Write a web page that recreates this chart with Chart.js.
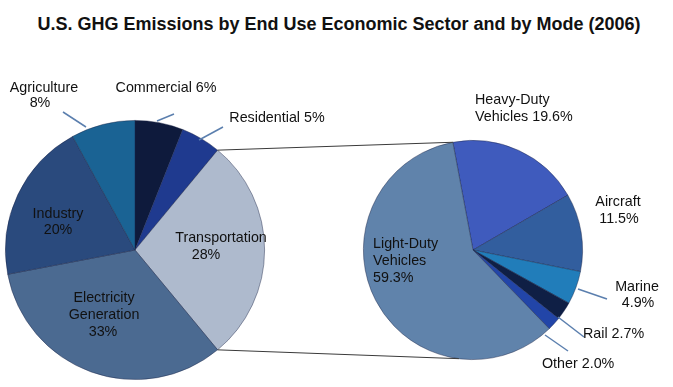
<!DOCTYPE html>
<html><head><meta charset="utf-8">
<script src="https://cdn.jsdelivr.net/npm/chart.js@4.4.0/dist/chart.umd.min.js"></script>
<style>
html,body{margin:0;padding:0;background:#fff;}
#wrap{position:relative;width:673px;height:387px;overflow:hidden;font-family:"Liberation Sans",Arial,sans-serif;background:#fff;}
#title{position:absolute;left:0;top:14px;width:678px;text-align:center;font-weight:bold;font-size:18px;color:#111;line-height:20px;}
canvas{position:absolute;}
</style></head><body>
<div id="wrap">
<div id="title">U.S. GHG Emissions by End Use Economic Sector and by Mode (2006)</div>
<canvas id="left" width="340" height="347" style="left:0;top:40px"></canvas>
<canvas id="right" width="333" height="347" style="left:340px;top:40px"></canvas>
<canvas id="conn" width="673" height="387" style="left:0;top:0;pointer-events:none"></canvas>
</div>
<script>
// ---- data ----
const sectorLabels = ['Commercial', 'Residential', 'Transportation', 'Electricity Generation', 'Industry', 'Agriculture'];
const sectorValues = [6, 5, 28, 33, 20, 8];
const modeLabels = ['Heavy-Duty Vehicles', 'Aircraft', 'Marine', 'Rail', 'Other', 'Light-Duty Vehicles'];
const modeValues = [19.6, 11.5, 4.9, 2.7, 2.0, 59.3];

// ---- styles ----
const sectorColors = ['#0e1a3c', '#1f3a8f', '#aebacd', '#4b6a91', '#2a4a7d', '#1a6394'];
const modeColors = ['#3f5bbd', '#325e9e', '#217dba', '#0f1f45', '#2245a8', '#6083ab'];
const FONT = '14.3px "Liberation Sans", Arial, sans-serif';
const LEADER = '#5b7fae';

// label layout (page coordinates): words per line, line positions, alignment, leader line
const sectorLayout = [
  {words: [2], pos: [[166, 88]], align: 'center', leader: [157, 121, 174, 114]},
  {words: [2], pos: [[277, 118]], align: 'center', leader: [199, 140, 223, 127]},
  {words: [1, 1], pos: [[221, 238], [206, 255]], align: 'center'},
  {words: [1, 1, 1], pos: [[104, 298], [104, 315], [103, 332]], align: 'center'},
  {words: [1, 1], pos: [[58, 214], [58, 230]], align: 'center'},
  {words: [1, 1], pos: [[44, 88], [40, 103]], align: 'center', leader: [86, 127, 63, 112]}
];
const modeLayout = [
  {words: [1, 2], pos: [[475, 100], [475, 117]], align: 'left'},
  {words: [1, 1], pos: [[618, 202], [619, 219]], align: 'center'},
  {words: [1, 1], pos: [[637, 287], [638, 303]], align: 'center', leader: [578, 289, 607, 299]},
  {words: [2], pos: [[583, 334]], align: 'left', leader: [558, 317, 584, 337]},
  {words: [2], pos: [[542, 364]], align: 'left', leader: [545, 335, 568, 351]},
  {words: [1, 1, 1], pos: [[373, 244], [373, 261], [373, 278]], align: 'left'}
];

function labelPlugin(labels, values, layout, fmt, offX, offY) {
  return {
    id: 'sliceLabels',
    afterDraw(chart) {
      const ctx = chart.ctx;
      ctx.save();
      layout.forEach((L, i) => {
        if (L.leader) {
          ctx.strokeStyle = LEADER;
          ctx.lineWidth = 1.5;
          ctx.beginPath();
          ctx.moveTo(L.leader[0] - offX, L.leader[1] - offY);
          ctx.lineTo(L.leader[2] - offX, L.leader[3] - offY);
          ctx.stroke();
        }
        const words = (labels[i] + ' ' + fmt(values[i]) + '%').split(' ');
        let k = 0;
        ctx.font = FONT;
        ctx.fillStyle = '#111';
        ctx.textBaseline = 'middle';
        ctx.textAlign = L.align;
        L.words.forEach((n, j) => {
          const t = words.slice(k, k + n).join(' ');
          k += n;
          ctx.fillText(t, L.pos[j][0] - offX, L.pos[j][1] - offY);
        });
      });
      ctx.restore();
    }
  };
}

function makePie(id, labels, values, colors, rotation, padding, plugin) {
  return new Chart(document.getElementById(id), {
    type: 'pie',
    data: {labels: labels, datasets: [{data: values, backgroundColor: colors,
      borderColor: 'rgba(25,35,70,0.55)', borderWidth: 0.8}]},
    options: {
      responsive: false, animation: false, devicePixelRatio: 1,
      rotation: rotation,
      layout: {padding: padding},
      plugins: {legend: {display: false}, tooltip: {enabled: false}, title: {display: false}}
    },
    plugins: [plugin]
  });
}

const leftChart = makePie('left', sectorLabels, sectorValues, sectorColors, 0,
  {left: 5, right: 75, top: 80, bottom: 7},
  labelPlugin(sectorLabels, sectorValues, sectorLayout, v => String(v), 0, 40));
const rightChart = makePie('right', modeLabels, modeValues, modeColors, -10.6,
  {left: 23, right: 90, top: 100, bottom: 27},
  labelPlugin(modeLabels, modeValues, modeLayout, v => v.toFixed(1), 340, 40));

// connector lines between pies (from the library's arc geometry)
(function () {
  const c = document.getElementById('conn').getContext('2d');
  const la = leftChart.getDatasetMeta(0).data;
  const ra = rightChart.getDatasetMeta(0).data;
  const pt = (arc, ang, ox, oy) => [arc.x + ox + arc.outerRadius * Math.cos(ang), arc.y + oy + arc.outerRadius * Math.sin(ang)];
  const top1 = pt(la[1], la[1].endAngle, 0, 40);
  const bot1 = pt(la[2], la[2].endAngle, 0, 40);
  const top2 = pt(ra[0], ra[0].startAngle, 340, 40);
  const bot2 = pt(ra[0], ra[0].startAngle + Math.PI * 1.1, 340, 40);
  c.strokeStyle = '#3a3a3a';
  c.lineWidth = 1;
  c.beginPath();
  c.moveTo(top1[0], top1[1]); c.lineTo(top2[0], top2[1]);
  c.moveTo(bot1[0], bot1[1]); c.lineTo(bot2[0], bot2[1]);
  c.stroke();
})();
</script>
</body></html>
